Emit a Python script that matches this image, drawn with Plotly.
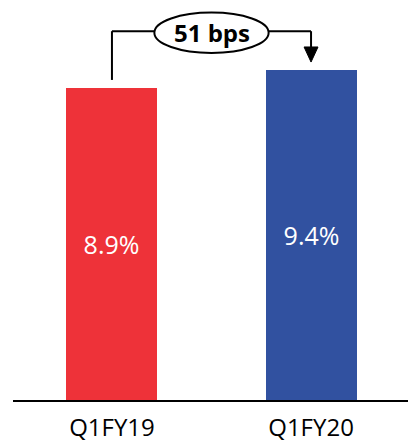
import plotly.graph_objects as go

# Chart data
categories = ["Q1FY19", "Q1FY20"]
values = [8.9, 9.4]
value_labels = ["8.9%", "9.4%"]
change_label = "51 bps"
bar_colors = ["#EE3239", "#3151A0"]

fig = go.Figure()
fig.add_trace(go.Bar(
    x=categories,
    y=values,
    marker=dict(color=bar_colors, line=dict(width=0)),
    width=0.457,
    text=value_labels,
    textposition="inside",
    insidetextanchor="middle",
    textangle=0,
    textfont=dict(family="Open Sans", size=25, color="white"),
    hoverinfo="skip",
))

# Bracket connecting the two bars with the change label in an ellipse
top = 10.52
lw = 2
line_style = dict(color="black", width=lw)
left_start = values[0] + 0.23
right_end = values[1] + 0.67
fig.add_shape(type="line", xref="x", yref="y", x0=0, x1=0, y0=left_start, y1=top, line=line_style)
fig.add_shape(type="line", xref="x", yref="y", x0=0, x1=0.216, y0=top, y1=top, line=line_style)
fig.add_shape(type="line", xref="x", yref="y", x0=0.784, x1=1, y0=top, y1=top, line=line_style)
fig.add_shape(type="line", xref="x", yref="y", x0=1, x1=1, y0=top, y1=right_end, line=line_style)
# Arrow head pointing down at the second bar
tip = values[1] + 0.24
fig.add_shape(type="path", xref="x", yref="y",
              path=f"M 0.965 {right_end} L 1.035 {right_end} L 1 {tip} Z",
              fillcolor="black", line=dict(color="black", width=1))
fig.add_shape(type="circle", xref="x", yref="y", x0=0.213, x1=0.787, y0=9.9, y1=11.05,
              line=dict(color="black", width=lw), fillcolor="white")
fig.add_annotation(x=0.5, y=10.48, xref="x", yref="y", text=f"<b>{change_label}</b>",
                   showarrow=False, font=dict(family="Open Sans", size=24, color="black"))

fig.update_layout(
    width=408, height=442,
    margin=dict(l=13, r=0, t=0, b=42, autoexpand=False),
    plot_bgcolor="white", paper_bgcolor="white",
    showlegend=False,
    bargap=0,
)
fig.update_xaxes(
    range=[-0.497, 1.487],
    automargin=False,
    showline=True, linecolor="black", linewidth=1.5,
    ticks="", showgrid=False,
    ticklabelstandoff=5,
    tickfont=dict(family="Open Sans", size=24, color="black"),
)
fig.update_yaxes(range=[0, 11.41], visible=False, showgrid=False)

fig.write_html("out.html")
